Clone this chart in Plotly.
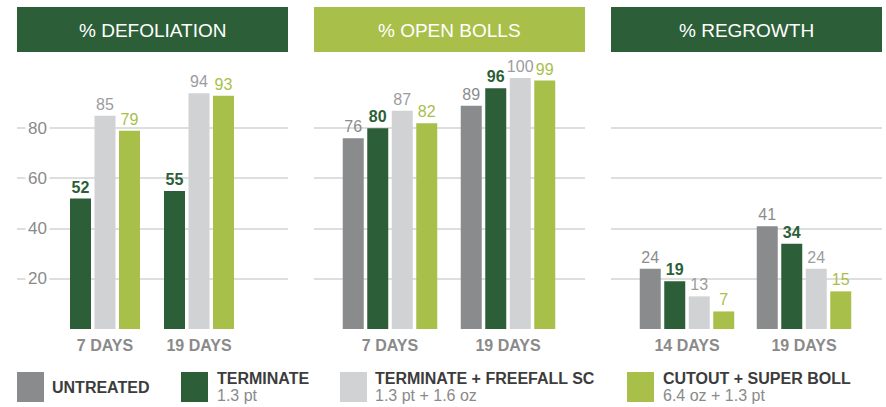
import plotly.graph_objects as go

# ---------------- data ----------------
series_names = ["UNTREATED", "TERMINATE", "TERMINATE + FREEFALL SC", "CUTOUT + SUPER BOLL"]
series_rates = ["", "1.3 pt", "1.3 pt + 1.6 oz", "6.4 oz + 1.3 pt"]

panel_titles = ["% DEFOLIATION", "% OPEN BOLLS", "% REGROWTH"]
defol_cats = ["7 DAYS", "19 DAYS"]
bolls_cats = ["7 DAYS", "19 DAYS"]
regrow_cats = ["14 DAYS", "19 DAYS"]

defol_untreated = [None, None]
defol_terminate = [52, 55]
defol_tff = [85, 94]
defol_cutout = [79, 93]

bolls_untreated = [76, 89]
bolls_terminate = [80, 96]
bolls_tff = [87, 100]
bolls_cutout = [82, 99]

regrow_untreated = [24, 41]
regrow_terminate = [19, 34]
regrow_tff = [13, 24]
regrow_cutout = [7, 15]

y_ticks = [0, 20, 40, 60, 80]
y_tick_labels = ["", "20", "40", "60", "80"]

# ---------------- style ----------------
W, H = 886, 407
FONT = "Liberation Sans, Arial, sans-serif"
bar_colors = ["#8a8b8d", "#2c5f38", "#d1d2d4", "#a8c04a"]
label_colors = ["#8c8c8c", "#2c5f38", "#9c9c9e", "#a8c04a"]
label_bold = [False, True, False, False]
title_colors = ["#2c5f38", "#a8c04a", "#2c5f38"]

def fx(px):
    return px / W

def fy(py):
    return 1 - py / H

panel_px = [(17, 288), (314, 585), (611, 882)]
cat_center_px = [(105, 199), (390, 508), (687, 804)]
y_bottom_px, y_top_px = 329, 60.5
y_max = (y_bottom_px - y_top_px) / 2.509

panels = [
    (defol_cats, [defol_untreated, defol_terminate, defol_tff, defol_cutout]),
    (bolls_cats, [bolls_untreated, bolls_terminate, bolls_tff, bolls_cutout]),
    (regrow_cats, [regrow_untreated, regrow_terminate, regrow_tff, regrow_cutout]),
]

fig = go.Figure()
layout = dict(
    width=W, height=H, margin=dict(l=0, r=0, t=0, b=0),
    paper_bgcolor="white", plot_bgcolor="white",
    barmode="overlay", showlegend=False,
    font=dict(family=FONT),
)
shapes = []
annotations = []

BAR_W, PITCH = 21, 24.5
for p, (cats, vals) in enumerate(panels):
    xa = "x" if p == 0 else f"x{p+1}"
    ya = "y" if p == 0 else f"y{p+1}"
    c0, c1 = cat_center_px[p]
    unit = c1 - c0
    left, right = panel_px[p]
    rng = [-(c0 - left) / unit, 1 + (right - c1) / unit]
    present = [i for i, v in enumerate(vals) if any(x is not None for x in v)]
    n = len(present)
    start = -(n * PITCH - (PITCH - BAR_W)) / 2
    for k, i in enumerate(present):
        off = (start + k * PITCH) / unit
        fig.add_trace(go.Bar(
            x=cats, y=vals[i], name=series_names[i],
            xaxis=xa, yaxis=ya,
            width=BAR_W / unit, offset=off,
            marker=dict(color=bar_colors[i], line=dict(width=0)),
            text=[("<b>%d</b>" if label_bold[i] else "%d") % v for v in vals[i]],
            textposition="outside", constraintext="none", cliponaxis=False,
            textfont=dict(color=label_colors[i], size=16, family=FONT),
            hoverinfo="skip",
        ))
    xkey = "xaxis" if p == 0 else f"xaxis{p+1}"
    ykey = "yaxis" if p == 0 else f"yaxis{p+1}"
    layout[xkey] = dict(
        domain=[fx(left), fx(right)], anchor=ya, type="category",
        categoryorder="array", categoryarray=cats, range=rng,
        showgrid=False, showline=False, zeroline=False, ticks="",
        ticklabelstandoff=5,
        tickfont=dict(size=16, color="#8a8a8a", family=FONT),
        tickprefix="<b>", ticksuffix="</b>", fixedrange=True,
    )
    layout[ykey] = dict(
        domain=[fy(y_bottom_px), fy(y_top_px)], anchor=xa, range=[0, y_max],
        tickvals=y_ticks, showticklabels=False, showgrid=True,
        gridcolor="#dedede", gridwidth=1.6, zeroline=False, showline=False,
        ticks="", fixedrange=True,
    )
    # title box
    shapes.append(dict(type="rect", xref=f"{xa} domain", yref="paper",
                       x0=0, x1=1, y0=fy(52), y1=fy(7),
                       fillcolor=title_colors[p], line=dict(width=0), layer="below"))
    annotations.append(dict(text=panel_titles[p], xref=f"{xa} domain", yref="paper",
                            x=0.5, y=fy(30), showarrow=False,
                            font=dict(size=19, color="white", family=FONT),
                            xanchor="center", yanchor="middle"))

# y tick labels for the first panel (drawn with a white background over gridlines)
for v, t in zip(y_ticks, y_tick_labels):
    if not t:
        continue
    annotations.append(dict(text=t, xref="x domain", yref="y", x=(37 - 17) / (288 - 17), y=v,
                            showarrow=False, bgcolor="white", borderpad=2,
                            font=dict(size=17, color="#8a8a8a", family=FONT),
                            xanchor="center", yanchor="middle"))

# custom legend
legend_sq_x = [17, 181, 340, 627]
legend_tx_x = [51, 216, 374, 662]
for i in range(4):
    shapes.append(dict(type="rect", xref="paper", yref="paper",
                       x0=fx(legend_sq_x[i]), x1=fx(legend_sq_x[i] + 27),
                       y0=fy(402), y1=fy(372), fillcolor=bar_colors[i], line=dict(width=0)))
    if series_rates[i]:
        annotations.append(dict(text="<b>" + series_names[i] + "</b>", xref="paper", yref="paper",
                                x=fx(legend_tx_x[i]), y=fy(378.5), showarrow=False,
                                xanchor="left", yanchor="middle", borderpad=0,
                                font=dict(size=16, color="#3c3c3c", family=FONT)))
        annotations.append(dict(text=series_rates[i], xref="paper", yref="paper",
                                x=fx(legend_tx_x[i]), y=fy(395), showarrow=False,
                                xanchor="left", yanchor="middle", borderpad=0,
                                font=dict(size=16, color="#8a8a8a", family=FONT)))
    else:
        annotations.append(dict(text="<b>" + series_names[i] + "</b>", xref="paper", yref="paper",
                                x=fx(legend_tx_x[i]), y=fy(387), showarrow=False,
                                xanchor="left", yanchor="middle", borderpad=0,
                                font=dict(size=16, color="#3c3c3c", family=FONT)))

layout["shapes"] = shapes
layout["annotations"] = annotations
fig.update_layout(**layout)
fig.write_html("out.html", config={"displayModeBar": False},
               post_script="document.body.style.margin='0';document.body.style.overflow='hidden';")
